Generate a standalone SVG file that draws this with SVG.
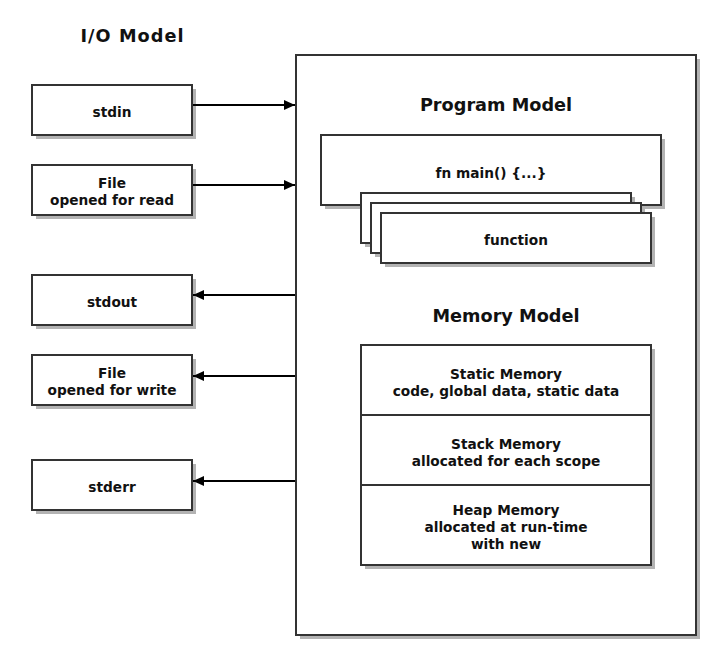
<svg xmlns="http://www.w3.org/2000/svg" width="715" height="654" viewBox="0 0 715 654">
<defs>
<style>
.box{fill:#fff;stroke:#333;stroke-width:2}
.sh{fill:#b3b3b3}
.t{font-family:"DejaVu Sans","Verdana",sans-serif;font-weight:bold;font-size:13.7px;fill:#111;text-anchor:middle}
.title{font-size:17.7px}
.ln{stroke:#000;stroke-width:2;fill:none}
</style>
<marker id="ah" markerWidth="12" markerHeight="12" refX="11" refY="6" orient="auto" markerUnits="userSpaceOnUse">
<path d="M0,1 L11,6 L0,11 Z" fill="#000"/>
</marker>
</defs>
<rect width="715" height="654" fill="#fff"/>
<text class="t title" x="132" y="42" textLength="103" lengthAdjust="spacing">I/O Model</text>

<g id="program">
<rect class="sh" x="300" y="59" width="400" height="580"/>
<rect class="box" x="296" y="55" width="400" height="580"/>
<text class="t title" x="496" y="111">Program Model</text>
<text class="t title" x="506" y="322">Memory Model</text>
</g>

<g id="main">
<rect class="sh" x="325" y="139" width="340" height="70"/>
<rect class="box" x="321" y="135" width="340" height="70"/>
<text class="t" x="491" y="178">fn main() {...}</text>
</g>

<g id="functions">
<rect class="sh" x="365" y="197" width="270" height="50"/>
<rect class="box" x="361" y="193" width="270" height="50"/>
<rect class="sh" x="375" y="207" width="270" height="50"/>
<rect class="box" x="371" y="203" width="270" height="50"/>
<rect class="sh" x="385" y="217" width="270" height="50"/>
<rect class="box" x="381" y="213" width="270" height="50"/>
<text class="t" x="516" y="245">function</text>
</g>

<g id="memory">
<rect class="sh" x="365" y="349" width="290" height="220"/>
<rect class="box" x="361" y="345" width="290" height="220"/>
<line class="box" x1="361" y1="415" x2="651" y2="415"/>
<line class="box" x1="361" y1="485" x2="651" y2="485"/>
<text class="t" x="506" y="379">Static Memory</text>
<text class="t" x="506" y="396">code, global data, static data</text>
<text class="t" x="506" y="449">Stack Memory</text>
<text class="t" x="506" y="466">allocated for each scope</text>
<text class="t" x="506" y="515">Heap Memory</text>
<text class="t" x="506" y="532">allocated at run-time</text>
<text class="t" x="506" y="549">with new</text>
</g>

<g id="stdin">
<rect class="sh" x="36" y="89" width="160" height="50"/>
<rect class="box" x="32" y="85" width="160" height="50"/>
<text class="t" x="112" y="117">stdin</text>
</g>
<g id="fileread">
<rect class="sh" x="36" y="169" width="160" height="50"/>
<rect class="box" x="32" y="165" width="160" height="50"/>
<text class="t" x="112" y="188">File</text>
<text class="t" x="112" y="205">opened for read</text>
</g>
<g id="stdout">
<rect class="sh" x="36" y="279" width="160" height="50"/>
<rect class="box" x="32" y="275" width="160" height="50"/>
<text class="t" x="112" y="307">stdout</text>
</g>
<g id="filewrite">
<rect class="sh" x="36" y="359" width="160" height="50"/>
<rect class="box" x="32" y="355" width="160" height="50"/>
<text class="t" x="112" y="378">File</text>
<text class="t" x="112" y="395">opened for write</text>
</g>
<g id="stderr">
<rect class="sh" x="36" y="464" width="160" height="50"/>
<rect class="box" x="32" y="460" width="160" height="50"/>
<text class="t" x="112" y="492">stderr</text>
</g>

<g id="connectors">
<line class="ln" x1="193" y1="105" x2="295" y2="105" marker-end="url(#ah)"/>
<line class="ln" x1="193" y1="185" x2="295" y2="185" marker-end="url(#ah)"/>
<line class="ln" x1="295" y1="295" x2="193" y2="295" marker-end="url(#ah)"/>
<line class="ln" x1="295" y1="376" x2="193" y2="376" marker-end="url(#ah)"/>
<line class="ln" x1="295" y1="481" x2="193" y2="481" marker-end="url(#ah)"/>
</g>
</svg>
